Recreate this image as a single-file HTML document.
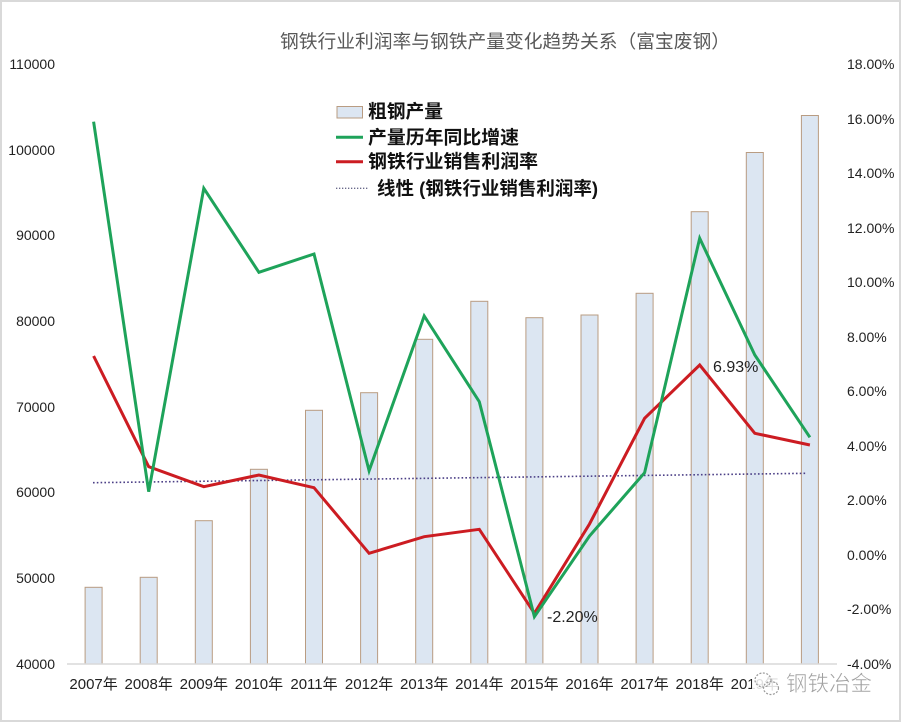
<!DOCTYPE html>
<html>
<head>
<meta charset="utf-8">
<style>
  html, body { margin:0; padding:0; background:#fff; }
  svg { display:block; }
  text { font-family: "Liberation Sans", "Noto Sans CJK SC", sans-serif; }
</style>
</head>
<body>
<svg width="902" height="723" viewBox="0 0 902 723" xmlns="http://www.w3.org/2000/svg">
  <rect x="0" y="0" width="902" height="723" fill="#ffffff"/>
  <rect x="1" y="1" width="899" height="720" fill="none" stroke="#d9d9d9" stroke-width="2"/>

  <!-- Title -->
  <text x="280" y="48" font-size="18.5" fill="#595959" textLength="450" lengthAdjust="spacingAndGlyphs">钢铁行业利润率与钢铁产量变化趋势关系（富宝废钢）</text>

  <!-- Left axis labels -->
  <g font-size="14" fill="#222" text-anchor="end">
    <text x="55" y="69">110000</text>
    <text x="55" y="155">100000</text>
    <text x="55" y="240">90000</text>
    <text x="55" y="326">80000</text>
    <text x="55" y="412">70000</text>
    <text x="55" y="497">60000</text>
    <text x="55" y="583">50000</text>
    <text x="55" y="669">40000</text>
  </g>

  <!-- Right axis labels -->
  <g font-size="14" fill="#222" text-anchor="start">
    <text x="847" y="69">18.00%</text>
    <text x="847" y="124">16.00%</text>
    <text x="847" y="178">14.00%</text>
    <text x="847" y="233">12.00%</text>
    <text x="847" y="287">10.00%</text>
    <text x="847" y="342">8.00%</text>
    <text x="847" y="396">6.00%</text>
    <text x="847" y="451">4.00%</text>
    <text x="847" y="505">2.00%</text>
    <text x="847" y="560">0.00%</text>
    <text x="847" y="614">-2.00%</text>
    <text x="847" y="669">-4.00%</text>
  </g>

  <!-- Bars -->
  <g fill="#dce6f2" stroke="#b99c82" stroke-width="1">
    <rect x="85.1" y="587.3" width="17" height="76.7"/>
    <rect x="140.2" y="577.3" width="17" height="86.7"/>
    <rect x="195.3" y="520.7" width="17" height="143.3"/>
    <rect x="250.4" y="469.3" width="17" height="194.7"/>
    <rect x="305.5" y="410.3" width="17" height="253.7"/>
    <rect x="360.6" y="392.7" width="17" height="271.3"/>
    <rect x="415.7" y="339.3" width="17" height="324.7"/>
    <rect x="470.8" y="301.3" width="17" height="362.7"/>
    <rect x="525.9" y="317.7" width="17" height="346.3"/>
    <rect x="581.0" y="315.0" width="17" height="349.0"/>
    <rect x="636.1" y="293.3" width="17" height="370.7"/>
    <rect x="691.2" y="211.7" width="17" height="452.3"/>
    <rect x="746.3" y="152.5" width="17" height="511.5"/>
    <rect x="801.4" y="115.5" width="17" height="548.5"/>
  </g>

  <!-- Axis baseline -->
  <line x1="67" y1="664" x2="837" y2="664" stroke="#d9d9d9" stroke-width="1.5"/>

  <!-- Trend line -->
  <line x1="93" y1="482.7" x2="807" y2="473.3" stroke="#4b3f86" stroke-width="1.6" stroke-dasharray="1.6 2.2"/>

  <!-- Red series -->
  <polyline fill="none" stroke="#cc1c22" stroke-width="3" stroke-linejoin="miter"
    points="93.6,356 148.7,466.7 203.8,486.7 258.9,475 314,487.7 369.1,553.3 424.2,536.7 479.3,529.3 534.4,613.3 589.5,524 644.6,418.3 699.7,365 754.8,433.3 809.9,445"/>

  <!-- Green series -->
  <polyline fill="none" stroke="#1ea35a" stroke-width="3" stroke-linejoin="miter"
    points="93.6,121.7 148.7,491.7 203.8,188.3 258.9,272.3 314,254 369.1,470.7 424.2,316 479.3,401.7 534.4,616.7 589.5,536 644.6,472.7 699.7,238.3 754.8,355 809.9,437.3"/>

  <!-- Data labels -->
  <text x="547" y="622" font-size="16" fill="#222">-2.20%</text>
  <text x="713" y="372" font-size="16" fill="#222">6.93%</text>

  <!-- X labels -->
  <g font-size="15" fill="#222" text-anchor="middle">
    <text x="93.6" y="689">2007年</text>
    <text x="148.7" y="689">2008年</text>
    <text x="203.8" y="689">2009年</text>
    <text x="258.9" y="689">2010年</text>
    <text x="314" y="689">2011年</text>
    <text x="369.1" y="689">2012年</text>
    <text x="424.2" y="689">2013年</text>
    <text x="479.3" y="689">2014年</text>
    <text x="534.4" y="689">2015年</text>
    <text x="589.5" y="689">2016年</text>
    <text x="644.6" y="689">2017年</text>
    <text x="699.7" y="689">2018年</text>
    <text x="754.8" y="689">2019年</text>
  </g>

  <!-- Watermark -->
  <rect x="752" y="670" width="28" height="28" fill="#ffffff" opacity="0.85"/>
  <g fill="none" stroke="#9a9a9a" stroke-width="1.2" stroke-dasharray="2 1.5">
    <ellipse cx="763" cy="680" rx="8" ry="7"/>
    <ellipse cx="771" cy="688" rx="7.5" ry="6.5"/>
  </g>
  <text x="786" y="691" font-size="21.5" fill="#a0a0a0" stroke="#ffffff" stroke-width="0.5" textLength="86" lengthAdjust="spacingAndGlyphs">钢铁冶金</text>

  <!-- Legend -->
  <rect x="337" y="106.5" width="25.5" height="11.5" fill="#dce6f2" stroke="#b99c82" stroke-width="1"/>
  <line x1="336" y1="137.3" x2="363" y2="137.3" stroke="#1ea35a" stroke-width="3"/>
  <line x1="336" y1="161.7" x2="363" y2="161.7" stroke="#cc1c22" stroke-width="3"/>
  <line x1="336" y1="188.3" x2="369" y2="188.3" stroke="#6a6a8a" stroke-width="1.3" stroke-dasharray="1.3 1.7"/>
  <g font-size="18.5" font-weight="bold" fill="#111">
    <text x="368" y="118" textLength="75" lengthAdjust="spacingAndGlyphs">粗钢产量</text>
    <text x="368" y="144" textLength="151" lengthAdjust="spacingAndGlyphs">产量历年同比增速</text>
    <text x="368" y="168" textLength="170" lengthAdjust="spacingAndGlyphs">钢铁行业销售利润率</text>
    <text x="377" y="195" textLength="221" lengthAdjust="spacingAndGlyphs">线性 (钢铁行业销售利润率)</text>
  </g>
</svg>
</body>
</html>
